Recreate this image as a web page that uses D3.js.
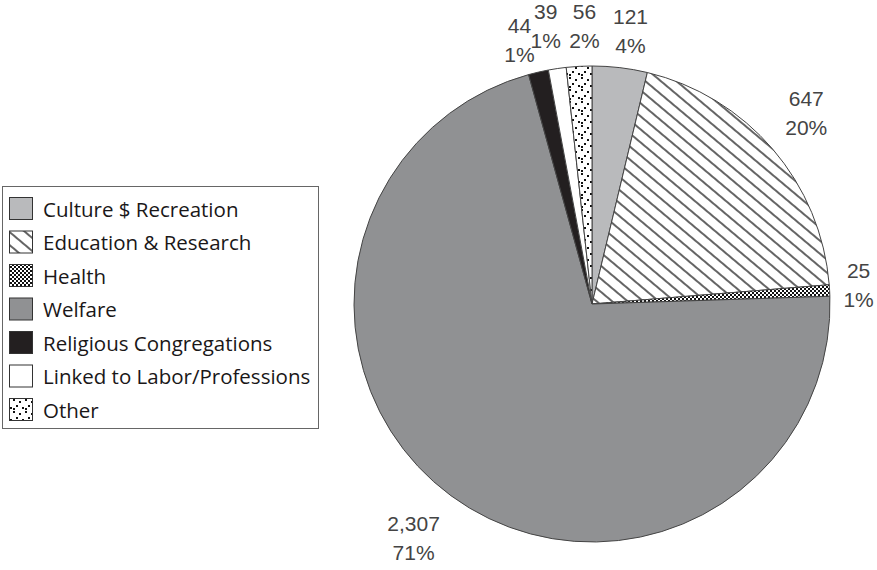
<!DOCTYPE html>
<html>
<head>
<meta charset="utf-8">
<script src="https://cdn.jsdelivr.net/npm/d3@7/dist/d3.min.js"></script>
<style>
  html, body { margin: 0; padding: 0; background: #fff; }
  svg { display: block; }
</style>
</head>
<body>
<svg id="chart" width="877" height="570"></svg>
<script>
// Sector categories, counts and their shares (clockwise from 12 o'clock)
const categories = [
  "Culture $ Recreation",
  "Education & Research",
  "Health",
  "Welfare",
  "Religious Congregations",
  "Linked to Labor/Professions",
  "Other"
];
const counts = [121, 647, 25, 2307, 44, 39, 56];
const countLabels = ["121", "647", "25", "2,307", "44", "39", "56"];
const percentLabels = ["4%", "20%", "1%", "71%", "1%", "1%", "2%"];

// Fill for each sector: a plain colour or a pattern id
const fills = ["#b9babc", "url(#hatch)", "url(#checker)", "#909193", "#231f20", "#ffffff", "url(#dots)"];
// Small per-label nudges away from the default outside position
const labelNudge = [[7, -6], [10, -16], [-2, -4], [-19, 17], [-12, -2], [-7, -12], [7, -9]];

const svg = d3.select("#chart");
const defs = svg.append("defs");

// Diagonal hatching
const hatch = defs.append("pattern")
  .attr("id", "hatch").attr("patternUnits", "userSpaceOnUse")
  .attr("width", 10).attr("height", 10)
  .attr("patternTransform", "rotate(40)");
hatch.append("rect").attr("width", 10).attr("height", 10).attr("fill", "#fff");
hatch.append("line").attr("x1", 0).attr("y1", 5).attr("x2", 10).attr("y2", 5)
  .attr("stroke", "#111").attr("stroke-width", 1.3);

// Fine checkerboard
const checker = defs.append("pattern")
  .attr("id", "checker").attr("patternUnits", "userSpaceOnUse")
  .attr("width", 4).attr("height", 4);
checker.append("rect").attr("width", 4).attr("height", 4).attr("fill", "#fff");
checker.append("rect").attr("width", 2).attr("height", 2).attr("fill", "#111");
checker.append("rect").attr("x", 2).attr("y", 2).attr("width", 2).attr("height", 2).attr("fill", "#111");

// Scattered dots
const dots = defs.append("pattern")
  .attr("id", "dots").attr("patternUnits", "userSpaceOnUse")
  .attr("width", 12).attr("height", 12);
dots.append("rect").attr("width", 12).attr("height", 12).attr("fill", "#fff");
[[1, 1], [7, 3], [4, 7], [10, 9], [1, 10]].forEach(([x, y]) =>
  dots.append("rect").attr("x", x).attr("y", y).attr("width", 2).attr("height", 2).attr("fill", "#111"));

// Pie
const cx = 592, cy = 304, r = 238;
const pie = d3.pie().sort(null).value(d => d)(counts);
const arc = d3.arc().innerRadius(0).outerRadius(r);

const g = svg.append("g").attr("transform", `translate(${cx},${cy})`);
g.selectAll("path.slice")
  .data(pie)
  .join("path")
  .attr("class", "slice")
  .attr("d", arc)
  .attr("fill", (d, i) => fills[i])
  .attr("stroke", "#444")
  .attr("stroke-width", 1)
  .attr("stroke-linejoin", "round");

// Value / share labels outside the pie
const labelArc = d3.arc().innerRadius(r + 31).outerRadius(r + 31);
const lab = g.selectAll("g.label")
  .data(pie)
  .join("g")
  .attr("class", "label")
  .attr("transform", (d, i) => {
    const [x, y] = labelArc.centroid(d);
    return `translate(${x + labelNudge[i][0]},${y + labelNudge[i][1]})`;
  })
  .style("font-family", "'Liberation Sans', Arial, sans-serif")
  .style("font-size", "21px")
  .attr("fill", "#444")
  .attr("text-anchor", "middle");
lab.append("text").attr("y", -7).text((d, i) => countLabels[i]);
lab.append("text").attr("y", 22).text((d, i) => percentLabels[i]);

// Legend
const legend = svg.append("g");
legend.append("rect")
  .attr("x", 2.5).attr("y", 186.5).attr("width", 316).attr("height", 242)
  .attr("fill", "#fff").attr("stroke", "#666").attr("stroke-width", 1);

const rowY = d3.scalePoint().domain(categories).range([197, 398]);
const item = legend.selectAll("g.item")
  .data(categories)
  .join("g")
  .attr("class", "item")
  .attr("transform", d => `translate(0,${rowY(d)})`);
item.append("rect")
  .attr("x", 9.5).attr("y", 0.5).attr("width", 23).attr("height", 22)
  .attr("fill", (d, i) => fills[i])
  .attr("stroke", "#333").attr("stroke-width", 1);
item.append("text")
  .attr("x", 43).attr("y", 19.5)
  .style("font-family", "'Open Sans', 'Noto Sans', sans-serif")
  .style("font-size", "20.5px")
  .attr("fill", "#1a1718")
  .text(d => d);
</script>
</body>
</html>
